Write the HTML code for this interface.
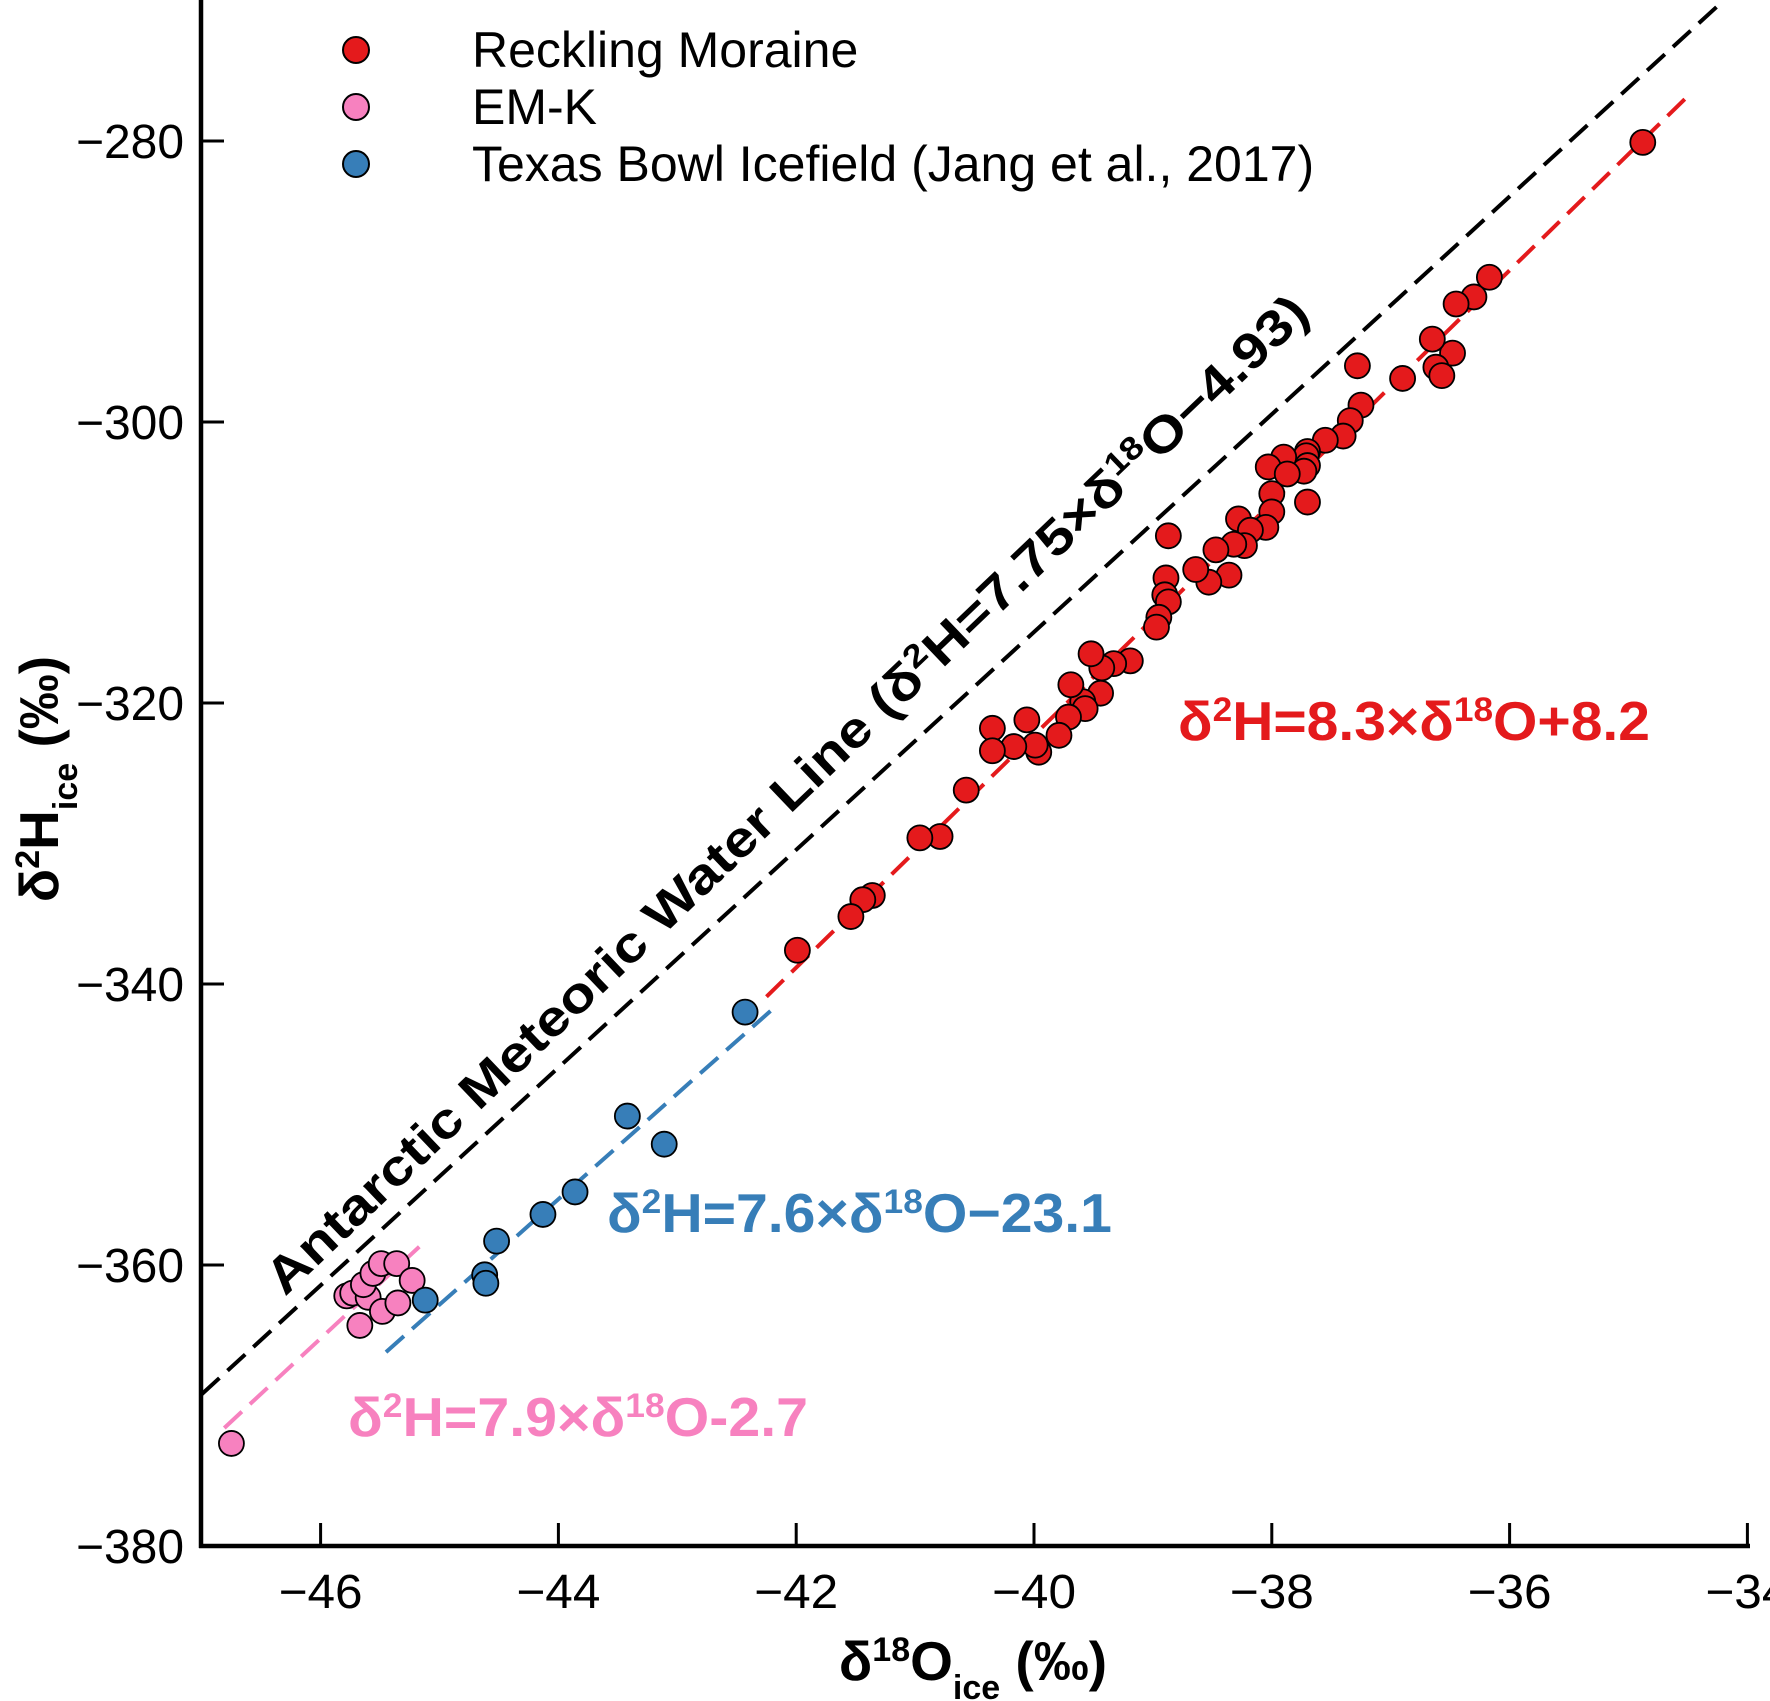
<!DOCTYPE html>
<html><head><meta charset="utf-8"><style>
html,body{margin:0;padding:0;background:#fff}
svg{display:block;font-family:"Liberation Sans",Arial,sans-serif}
</style></head><body>
<svg id="chart" width="1770" height="1701" viewBox="0 0 1770 1701" xmlns="http://www.w3.org/2000/svg">
<g id="lines"></g>
<g id="points"></g>
<g id="axes"></g>
<text transform="translate(285,1297) rotate(-43.7)" font-size="50" font-weight="bold" textLength="1420" lengthAdjust="spacingAndGlyphs">Antarctic Meteoric Water Line (δ<tspan baseline-shift="super" font-size="32">2</tspan>H=7.75×δ<tspan baseline-shift="super" font-size="32">18</tspan>O−4.93)</text>
<text x="1178" y="740" font-size="55" font-weight="bold" fill="#e41a1c" textLength="472" lengthAdjust="spacingAndGlyphs">δ<tspan baseline-shift="super" font-size="34">2</tspan>H=8.3×δ<tspan baseline-shift="super" font-size="34">18</tspan>O+8.2</text>
<text x="607" y="1232" font-size="55" font-weight="bold" fill="#377eb8" textLength="505" lengthAdjust="spacingAndGlyphs">δ<tspan baseline-shift="super" font-size="34">2</tspan>H=7.6×δ<tspan baseline-shift="super" font-size="34">18</tspan>O−23.1</text>
<text x="348" y="1436" font-size="55" font-weight="bold" fill="#f781bf" textLength="460" lengthAdjust="spacingAndGlyphs">δ<tspan baseline-shift="super" font-size="34">2</tspan>H=7.9×δ<tspan baseline-shift="super" font-size="34">18</tspan>O-2.7</text>
<g font-size="50">
<circle cx="356" cy="50" r="13" fill="#e41a1c" stroke="#000" stroke-width="2"/>
<text x="472" y="67">Reckling Moraine</text>
<circle cx="356" cy="107" r="13" fill="#f781bf" stroke="#000" stroke-width="2"/>
<text x="472" y="124">EM-K</text>
<circle cx="356" cy="164" r="13" fill="#377eb8" stroke="#000" stroke-width="2"/>
<text x="472" y="181">Texas Bowl Icefield (Jang et al., 2017)</text>
</g>
<text x="973" y="1680" text-anchor="middle" font-size="55" font-weight="bold">δ<tspan baseline-shift="super" font-size="34">18</tspan>O<tspan baseline-shift="sub" font-size="34">ice</tspan> (‰)</text>
<text transform="translate(58,779) rotate(-90)" text-anchor="middle" font-size="55" font-weight="bold">δ<tspan baseline-shift="super" font-size="34">2</tspan>H<tspan baseline-shift="sub" font-size="34">ice</tspan> (‰)</text>
</svg>
<script>
const xTicks = [-46, -44, -42, -40, -38, -36, -34];
const xTickLabels = ["−46", "−44", "−42", "−40", "−38", "−36", "−34"];
const yTicks = [-380, -360, -340, -320, -300, -280];
const yTickLabels = ["−380", "−360", "−340", "−320", "−300", "−280"];
const recklingX = [-34.88,-36.17,-36.30,-36.45,-36.48,-36.65,-36.62,-36.57,-36.9,-37.28,-37.25,-37.34,-37.4,-37.55,-37.7,-37.71,-37.7,-37.73,-37.7,-37.9,-38.03,-37.87,-38.0,-38.0,-38.05,-38.28,-38.18,-38.23,-38.32,-38.47,-38.36,-38.53,-38.64,-38.87,-38.89,-38.9,-38.87,-38.95,-38.97,-39.19,-39.33,-39.43,-39.52,-39.44,-39.59,-39.57,-39.69,-39.71,-39.79,-39.96,-39.99,-40.06,-40.17,-40.35,-40.35,-40.57,-40.79,-40.96,-41.36,-41.44,-41.54,-41.99];
const recklingY = [-280.1,-289.7,-291.1,-291.6,-295.1,-294.1,-296.1,-296.7,-296.9,-296.0,-298.8,-299.9,-301,-301.3,-302.1,-302.4,-303.1,-303.5,-305.7,-302.5,-303.2,-303.7,-305.1,-306.4,-307.5,-306.9,-307.7,-308.8,-308.7,-309.1,-310.9,-311.4,-310.5,-308.1,-311.1,-312.3,-312.8,-313.9,-314.6,-317,-317.2,-317.5,-316.5,-319.3,-319.9,-320.4,-318.7,-321,-322.3,-323.5,-323,-321.2,-323.1,-321.8,-323.4,-326.2,-329.5,-329.6,-333.7,-334,-335.2,-337.6];
const emkX = [-46.75,-45.78,-45.73,-45.67,-45.6,-45.64,-45.56,-45.48,-45.49,-45.36,-45.35,-45.23];
const emkY = [-372.7,-362.2,-362.0,-364.3,-362.3,-361.4,-360.6,-363.3,-359.9,-359.9,-362.7,-361.1];
const texasX = [-45.12,-44.62,-44.61,-44.52,-44.13,-43.86,-43.42,-43.11,-42.43];
const texasY = [-362.5,-360.7,-361.3,-358.3,-356.4,-354.8,-349.4,-351.4,-342.0];
const amwlLineX = [-47.0, -34.2];
const amwlLineY = [-369.2, -270.0];
const recklingLineX = [-42.25, -34.5];
const recklingLineY = [-340.9, -276.8];
const texasLineX = [-45.45, -42.2];
const texasLineY = [-366.2, -341.8];
const emkLineX = [-46.81, -45.17];
const emkLineY = [-371.6, -358.7];

const NS = "http://www.w3.org/2000/svg";
const X0 = 201, Y0 = 1546;
function sx(v){ return 320.6 + (v + 46) * 118.9; }
function sy(v){ return 141 + (-280 - v) * 14.05; }
function mk(tag, attrs, parent){
  const e = document.createElementNS(NS, tag);
  for (const k in attrs) e.setAttribute(k, attrs[k]);
  parent.appendChild(e); return e;
}
const gl = document.getElementById('lines');
const gp = document.getElementById('points');
const ga = document.getElementById('axes');

function drawLine(xs, ys, color, name, dash){
  const l = mk('line', {x1:sx(xs[0]), y1:sy(ys[0]), x2:sx(xs[1]), y2:sy(ys[1]), stroke:color, 'stroke-width':4, 'stroke-dasharray':dash}, gl);
  
  
}
drawLine(amwlLineX, amwlLineY, '#000', 'amwl-line', '24 11');
drawLine(recklingLineX, recklingLineY, '#e41a1c', 'reckling-fit-line', '24 11');
drawLine(texasLineX, texasLineY, '#377eb8', 'texas-bowl-fit-line', '24 11');
drawLine(emkLineX, emkLineY, '#f781bf', 'emk-fit-line', '24 11');

function drawPts(xs, ys, color, name){
  for (let i = 0; i < xs.length; i++){
    const c = mk('circle', {cx:sx(xs[i]), cy:sy(ys[i]), r:12.5, fill:color, stroke:'#000', 'stroke-width':1.8}, gp);
    
    
  }
}
drawPts(emkX, emkY, '#f781bf', 'emk-point');
drawPts(texasX, texasY, '#377eb8', 'texas-bowl-point');
drawPts(recklingX, recklingY, '#e41a1c', 'reckling-point');

const ya = mk('line', {x1:X0, y1:0, x2:X0, y2:Y0+2, stroke:'#000', 'stroke-width':4.5}, ga);


const xa = mk('line', {x1:X0-2, y1:Y0, x2:1750, y2:Y0, stroke:'#000', 'stroke-width':4.5}, ga);


xTicks.forEach((v, i) => {
  const t = mk('line', {x1:sx(v), y1:Y0, x2:sx(v), y2:Y0-23, stroke:'#000', 'stroke-width':3}, ga);
  
  
  const tx = mk('text', {x:sx(v), y:1608, 'text-anchor':'middle', 'font-size':48, textLength:84, lengthAdjust:'spacingAndGlyphs'}, ga);
  tx.textContent = xTickLabels[i];
  
  
});
yTicks.forEach((v, i) => {
  const t = mk('line', {x1:X0, y1:sy(v), x2:X0+23, y2:sy(v), stroke:'#000', 'stroke-width':3}, ga);
  
  
  const tx = mk('text', {x:184, y:sy(v)+17, 'text-anchor':'end', 'font-size':48, textLength:108, lengthAdjust:'spacingAndGlyphs'}, ga);
  tx.textContent = yTickLabels[i];
  
  
});
</script>
</body></html>
